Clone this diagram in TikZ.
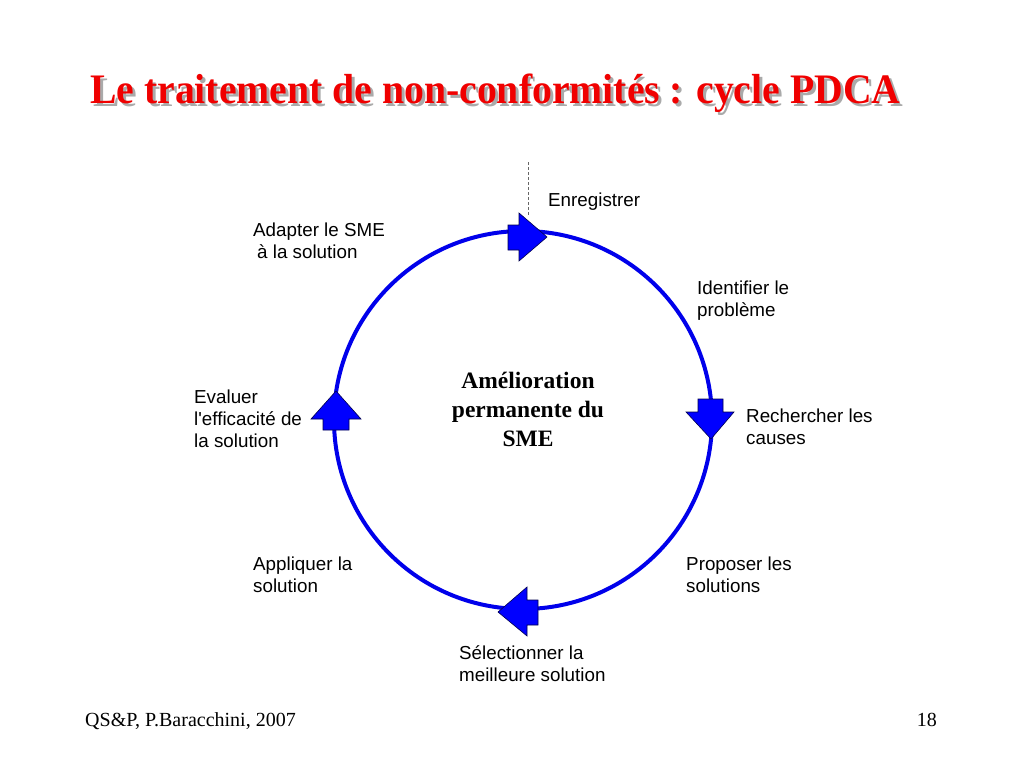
\documentclass[tikz,border=0pt]{standalone}
\usepackage{fontspec}
\setmainfont{Liberation Serif}
\newfontfamily\arialf{Liberation Sans}
\definecolor{cblue}{RGB}{0,0,235}
\definecolor{ablue}{RGB}{0,0,255}
\definecolor{tred}{RGB}{240,0,0}
\definecolor{tshadow}{RGB}{170,170,170}
\newcommand{\titletext}{\scalebox{0.945}[1]{Le traitement de non-conformités : cycle PDCA}}
\begin{document}
\begin{tikzpicture}[x=1pt,y=-1pt,
  lbl/.style={anchor=base west,inner sep=0pt,align=left,font=\arialf\fontsize{18.8}{22}\selectfont},
  titlestyle/.style={anchor=base west,inner sep=0pt,font=\bfseries\fontsize{42}{46}\selectfont},
  blockarrow/.style={fill=ablue,draw=black!70!blue,line width=0.6pt,line join=miter}]
\useasboundingbox (0,0) rectangle (1024,768);
\fill[white] (0,0) rectangle (1024,768);
% title with shadow
\node[titlestyle] (title) at (90,103.5) {\rlap{\hspace*{3pt}\raisebox{-3pt}{\color{tshadow}\titletext}}\textcolor{tred}{\titletext}};
% dashed line
\coordinate (dtop) at (528,162);
\coordinate (dbot) at (528,215);
\draw[dash pattern=on 3pt off 2pt,black!60,line width=0.8pt] (dtop) -- (dbot);
% cycle
\node[circle,draw=cblue,line width=4pt,minimum size=378pt,inner sep=0pt] (ring) at (523,420) {};
% block arrows
\draw[blockarrow] (508,225) -- (519,225) -- (519,213) -- (547,237) -- (519,261) -- (519,250) -- (508,250) -- cycle;
\draw[blockarrow] (698,399) -- (723,399) -- (723,412) -- (734,412) -- (711,439) -- (686,412) -- (698,412) -- cycle;
\draw[blockarrow] (538,600) -- (527,600) -- (527,587) -- (498,612) -- (527,636) -- (527,625) -- (538,625) -- cycle;
\draw[blockarrow] (323,430) -- (323,419) -- (311,419) -- (336,391) -- (361,419) -- (349,419) -- (349,430) -- cycle;
% center text (base anchor = last line)
\node[align=center,inner sep=0pt,anchor=base,font=\bfseries\fontsize{23.5}{29}\selectfont] (centre) at (528,446) {Amélioration\\permanente du\\SME};
% labels (base anchor = last line)
\node[lbl] (enr) at (548,206) {Enregistrer};
\node[lbl] (adapt) at (253,258) {Adapter le SME\\\hspace*{4pt}à la solution};
\node[lbl] (ident) at (697,316) {Identifier le\\problème};
\node[lbl] (rech) at (746,444) {Rechercher les\\causes};
\node[lbl] (prop) at (686,592) {Proposer les\\solutions};
\node[lbl] (sel) at (459,681) {Sélectionner la\\meilleure solution};
\node[lbl] (appl) at (253,592) {Appliquer la\\solution};
\node[lbl] (eval) at (194,447) {Evaluer\\l'efficacité de\\la solution};
% footer
\node[anchor=base west,inner sep=0pt,font=\fontsize{20}{22}\selectfont] (foot) at (85,726) {QS\&P, P.Baracchini, 2007};
\node[anchor=base east,inner sep=0pt,font=\fontsize{20}{22}\selectfont] (page) at (937,726) {18};
\end{tikzpicture}
\end{document}
